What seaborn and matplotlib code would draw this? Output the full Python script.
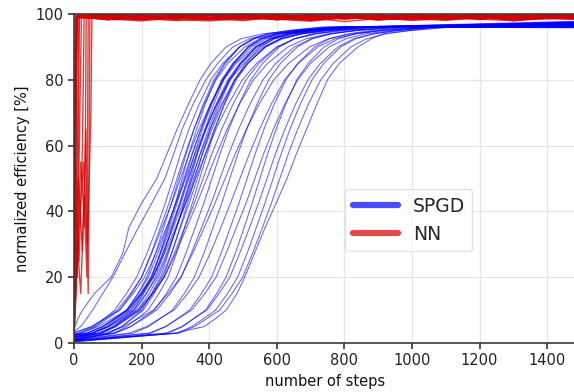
import numpy as np
import pandas as pd
import matplotlib
matplotlib.use("Agg")
import matplotlib.pyplot as plt
from matplotlib.lines import Line2D
import seaborn as sns

# ---------------- data ----------------
# SPGD runs: efficiency levels [%] and the step at which each run crosses them
SPGD_LEVELS = [3, 5, 7.5, 10, 15, 20, 27.5, 35, 42.5, 50, 57.5, 65, 72.5, 80, 85, 90, 92.5, 94, 95, 96]
spgd_start = [4.5, 3.5, 2.5, 2.0, 1.5, 3.0, 1.0, 2.5, 1.8, 3.2, 1.2, 2.2, 2.0, 0.8, 2.8,
              1.5, 2.0, 1.0, 2.5, 1.6, 1.0, 2.0, 2.5, 1.2, 1.0, 1.8, 0.8, 1.0, 0.6, 0.8,
              0.5, 0.7, 0.5, 0.6, 0.3]
N = None
spgd_cross = [
    [N, 3, 12, 25, 60, 110, 145, 162, 200, 245, 275, 305, 338, 373, 405, 450, 495, 560, 650, 800],
    [N, 20, 38, 55, 85, 115, 152, 190, 230, 269, 295, 320, 352, 390, 425, 470, 520, 580, 680, 820],
    [N, 60, 92, 120, 155, 185, 217, 245, 270, 293, 315, 340, 370, 405, 440, 490, 535, 600, 690, 830],
    [20, 65, 100, 135, 170, 200, 229, 255, 281, 305, 329, 355, 385, 420, 455, 505, 550, 605, 675, 785],
    [54, 94, 126, 157, 189, 216, 242, 265, 288, 310, 332, 355, 382, 414, 445, 490, 531, 580, 643, 742],
    [N, 51, 90, 128, 167, 200, 231, 260, 289, 315, 341, 370, 403, 442, 480, 535, 585, 645, 722, 843],
    [78, 116, 146, 176, 205, 231, 255, 278, 300, 320, 340, 363, 388, 418, 448, 490, 528, 575, 635, 728],
    [40, 85, 120, 155, 190, 220, 249, 275, 301, 325, 349, 375, 405, 440, 475, 525, 570, 625, 695, 805],
    [57, 100, 133, 167, 200, 228, 256, 281, 305, 328, 351, 376, 404, 437, 471, 518, 561, 613, 680, 784],
    [N, 54, 94, 135, 175, 209, 243, 273, 302, 330, 358, 388, 422, 462, 503, 560, 612, 675, 756, 882],
    [79, 119, 151, 182, 214, 241, 267, 290, 313, 335, 357, 380, 407, 439, 470, 515, 556, 605, 668, 767],
    [39, 86, 123, 160, 196, 228, 258, 286, 313, 338, 363, 391, 422, 459, 496, 548, 595, 653, 727, 842],
    [55, 100, 135, 170, 205, 235, 264, 290, 316, 340, 364, 390, 420, 455, 490, 540, 585, 640, 710, 820],
    [103, 141, 171, 201, 230, 256, 280, 303, 325, 345, 365, 388, 413, 443, 473, 515, 553, 600, 660, 753],
    [35, 84, 123, 161, 200, 233, 264, 293, 322, 348, 374, 403, 436, 475, 513, 568, 618, 678, 755, 876],
    [79, 122, 155, 189, 222, 250, 278, 303, 327, 350, 373, 398, 426, 459, 493, 540, 583, 635, 702, 806],
    [56, 103, 140, 177, 213, 245, 275, 303, 330, 355, 380, 408, 439, 476, 513, 565, 612, 670, 744, 859],
    [102, 142, 174, 205, 237, 264, 290, 313, 336, 358, 380, 403, 430, 462, 493, 538, 579, 628, 691, 790],
    [18, 72, 114, 156, 198, 234, 269, 300, 331, 360, 389, 420, 456, 498, 540, 600, 654, 720, 804, 936],
    [80, 125, 160, 195, 230, 260, 289, 315, 341, 365, 389, 415, 445, 480, 515, 565, 610, 665, 735, 845],
    [116, 156, 188, 219, 251, 278, 304, 327, 350, 372, 394, 417, 444, 476, 507, 552, 593, 642, 705, 804],
    [69, 118, 157, 195, 234, 267, 298, 327, 356, 382, 408, 437, 470, 509, 547, 602, 652, 712, 789, 910],
    [51, 105, 147, 189, 231, 267, 302, 333, 364, 393, 422, 453, 489, 531, 573, 633, 687, 753, 837, 969],
    [123, 168, 203, 238, 273, 303, 332, 358, 384, 408, 432, 458, 488, 523, 558, 608, 653, 708, 778, 888],
    [119, 168, 207, 245, 284, 317, 348, 377, 406, 432, 458, 487, 520, 559, 597, 652, 702, 762, 839, 960],
    [91, 147, 191, 235, 278, 316, 352, 385, 417, 447, 477, 510, 547, 591, 635, 697, 753, 822, 910, 1047],
    [176, 221, 256, 291, 326, 356, 385, 411, 437, 461, 485, 511, 541, 576, 611, 661, 706, 761, 831, 941],
    [163, 215, 255, 296, 336, 370, 404, 434, 463, 491, 519, 549, 583, 623, 664, 721, 773, 836, 917, 1043],
    [227, 272, 307, 342, 377, 407, 436, 462, 488, 512, 536, 562, 592, 627, 662, 712, 757, 812, 882, 992],
    [222, 271, 310, 348, 387, 420, 451, 480, 509, 535, 561, 590, 623, 662, 700, 755, 805, 865, 942, 1063],
    [279, 322, 355, 389, 422, 450, 478, 503, 527, 550, 573, 598, 626, 659, 693, 740, 783, 835, 902, 1006],
    [272, 319, 356, 393, 429, 461, 491, 519, 546, 571, 596, 624, 655, 692, 729, 781, 828, 886, 960, 1075],
    [304, 349, 384, 419, 454, 484, 513, 539, 565, 589, 613, 639, 669, 704, 739, 789, 834, 889, 959, 1069],
    [310, 357, 394, 431, 467, 499, 529, 557, 584, 609, 634, 662, 693, 730, 767, 819, 866, 924, 998, 1113],
    [300, 385, 420, 450, 482, 505, 535, 565, 598, 630, 658, 688, 718, 750, 785, 840, 880, 915, 990, 1100],
]
spgd_end = [96.8, 97.0, 96.5, 97.3, 96.2, 97.6, 96.9, 96.4, 97.1, 96.0, 97.4, 96.7, 97.8, 96.3,
            97.0, 96.6, 97.2, 95.9, 96.8, 97.5, 96.1, 97.0, 96.4, 97.3, 96.7, 95.8, 97.1, 96.5,
            97.6, 96.2, 96.9, 97.2, 96.0, 96.6, 96.3]
FINAL_STEP = 1480

# NN runs: early transient (steps, values) then plateau values
nn_early_steps = [
    [0, 3, 6], [0, 2, 5], [0, 4, 8], [0, 3, 7], [0, 5, 10], [0, 2, 4, 9],
    [0, 6, 12, 16], [0, 4, 10, 18, 22], [0, 8, 15, 25, 30], [0, 10, 20, 30, 38, 42],
    [0, 12, 25, 35, 42, 47], [0, 15, 28, 40, 50, 53], [0, 3, 5], [0, 2, 6],
    [0, 5, 9], [0, 3, 8, 14], [0, 20, 32, 36], [0, 4, 7],
]
nn_early_values = [
    [2, 60, 99.2], [10, 45, 99.0], [0.5, 30, 99.4], [25, 85, 99.1], [5, 55, 98.8],
    [40, 20, 70, 99.5], [1, 15, 50, 99.0], [3, 35, 20, 75, 99.3], [12, 40, 25, 60, 99.2],
    [8, 30, 15, 45, 20, 99.0], [20, 50, 28, 65, 15, 98.9], [5, 35, 55, 30, 70, 99.1],
    [50, 90, 99.6], [0, 40, 99.0], [15, 70, 99.3], [30, 60, 40, 99.5], [2, 55, 35, 99.0],
    [1, 20, 99.2],
]
NN_PLATEAU_STEPS = [100, 200, 300, 400, 500, 600, 700, 800, 900, 1000, 1100, 1200, 1300, 1400, 1480]
nn_plateau = [
    [99.2, 98.4, 99.6, 98.9, 99.4, 98.2, 99.5, 98.8, 99.7, 98.6, 99.3, 98.3, 99.6, 98.9, 99.2],
    [98.6, 99.5, 98.3, 99.7, 98.8, 99.4, 98.1, 99.3, 98.7, 99.8, 98.5, 99.4, 98.9, 99.6, 98.8],
    [99.8, 98.9, 99.5, 98.5, 99.9, 99.1, 98.6, 99.7, 99.0, 98.4, 99.6, 99.2, 98.7, 99.5, 99.4],
    [98.3, 99.1, 98.7, 99.6, 98.2, 98.9, 99.5, 98.4, 99.2, 98.8, 99.7, 98.5, 99.3, 98.6, 99.0],
    [99.4, 98.7, 99.8, 99.0, 98.5, 99.6, 98.8, 99.4, 98.3, 99.7, 98.9, 99.5, 98.4, 99.2, 98.7],
    [99.7, 99.2, 98.8, 99.9, 99.3, 98.7, 99.8, 99.1, 99.6, 98.9, 99.4, 99.8, 99.0, 99.7, 99.5],
    [98.5, 97.9, 98.8, 98.2, 99.0, 98.4, 97.8, 98.9, 98.3, 98.7, 98.1, 99.0, 98.4, 98.6, 98.8],
    [99.1, 99.6, 98.6, 99.3, 99.8, 98.9, 99.4, 98.5, 99.7, 99.2, 98.8, 99.5, 99.1, 99.8, 99.2],
    [98.8, 98.2, 99.2, 98.6, 98.0, 99.1, 98.5, 99.3, 98.1, 98.9, 98.4, 99.2, 97.9, 98.8, 98.6],
    [99.5, 98.8, 99.2, 99.7, 98.9, 99.4, 99.0, 99.6, 98.7, 99.3, 99.8, 98.9, 99.4, 99.0, 99.3],
    [98.2, 98.7, 98.0, 98.5, 99.0, 98.3, 98.8, 97.7, 98.6, 98.2, 98.9, 98.4, 98.0, 98.7, 98.5],
    [99.0, 99.5, 98.9, 98.5, 99.3, 99.6, 98.7, 99.2, 99.5, 98.8, 99.1, 99.7, 98.9, 99.3, 99.1],
    [99.8, 99.5, 99.9, 99.6, 99.8, 99.3, 99.7, 99.9, 99.5, 99.8, 99.4, 99.9, 99.6, 99.8, 99.7],
    [98.4, 98.9, 98.3, 97.9, 98.6, 98.8, 98.2, 98.7, 98.9, 98.1, 98.5, 98.8, 98.3, 98.6, 98.4],
    [99.3, 98.6, 99.1, 99.5, 98.7, 99.2, 99.6, 98.8, 99.3, 99.0, 99.5, 98.7, 99.2, 99.4, 99.0],
    [99.6, 99.8, 99.2, 99.7, 99.4, 99.8, 99.1, 99.6, 99.3, 99.7, 99.5, 99.2, 99.8, 99.4, 99.6],
    [98.7, 98.3, 98.9, 98.4, 98.8, 98.5, 98.1, 98.9, 98.4, 98.7, 98.2, 98.8, 98.5, 98.9, 98.9],
    [99.3, 99.0, 99.6, 98.9, 99.2, 99.7, 99.0, 99.3, 99.6, 99.1, 99.4, 99.0, 99.7, 99.2, 99.2],
]

# ---------------- assemble long table ----------------
rows = []
for i, (y0, cross, yend) in enumerate(zip(spgd_start, spgd_cross, spgd_end)):
    rows.append(("SPGD", f"s{i}", 0, y0))
    for x, y in zip(cross, SPGD_LEVELS):
        if x is not None:
            rows.append(("SPGD", f"s{i}", x, y))
    rows.append(("SPGD", f"s{i}", FINAL_STEP, yend))
for i, (es, ev, pv) in enumerate(zip(nn_early_steps, nn_early_values, nn_plateau)):
    for x, y in zip(es + NN_PLATEAU_STEPS, ev + pv):
        rows.append(("NN", f"n{i}", x, y))
df = pd.DataFrame(rows, columns=["method", "run", "step", "eff"])

# ---------------- style ----------------
sns.set_theme(style="whitegrid")
plt.rcParams.update({
    "font.family": ["DejaVu Sans"],
    "axes.edgecolor": "#3a3a3a",
    "axes.linewidth": 1.2,
    "grid.color": "#e6e6e6",
    "grid.linewidth": 0.9,
    "xtick.bottom": True,
    "ytick.left": True,
    "xtick.color": "#222222",
    "ytick.color": "#222222",
    "xtick.major.size": 4,
    "ytick.major.size": 4,
    "xtick.major.width": 1.1,
    "ytick.major.width": 1.1,
    "xtick.labelsize": 10.5,
    "ytick.labelsize": 10.5,
    "axes.labelsize": 10.5,
})

BLUE = "#0000ff"
RED = "#d40000"

fig = plt.figure(figsize=(5.74, 3.92), dpi=100)
ax = fig.add_axes([74 / 574, 49 / 392, 0.875, 329 / 392])

sns.lineplot(data=df[df.method == "SPGD"], x="step", y="eff", units="run",
             estimator=None, sort=False, color=BLUE, linewidth=0.75, alpha=0.6,
             legend=False, ax=ax)
sns.lineplot(data=df[df.method == "NN"], x="step", y="eff", units="run",
             estimator=None, sort=False, color=RED, linewidth=1.0, alpha=0.75,
             legend=False, ax=ax)

ax.set_xlim(0, 1486)
ax.set_ylim(0, 100)
ax.set_xticks(np.arange(0, 1401, 200))
ax.set_yticks(np.arange(0, 101, 20))
ax.set_xlabel("number of steps", color="#111111")
ax.set_ylabel("normalized efficiency [%]", color="#111111")
for s in ax.spines.values():
    s.set_visible(True)

handles = [Line2D([0], [0], color=BLUE, lw=4.5, alpha=0.7),
           Line2D([0], [0], color=RED, lw=4.5, alpha=0.7)]
ax.legend(handles, ["SPGD", "NN"], loc="upper left", bbox_to_anchor=(0.54, 0.468),
          borderaxespad=0, fontsize=13.5, handlelength=2.4, frameon=True,
          framealpha=0.8, edgecolor="#dddddd")

fig.savefig("out.png", dpi=100)
